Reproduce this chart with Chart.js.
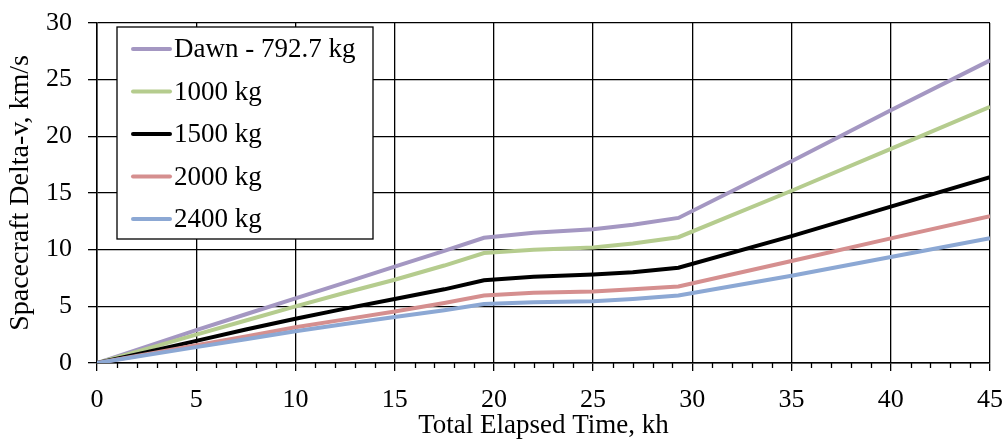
<!DOCTYPE html>
<html>
<head>
<meta charset="utf-8">
<script src="https://cdn.jsdelivr.net/npm/chart.js@4.4.0/dist/chart.umd.min.js"></script>
<style>
  html, body { margin: 0; padding: 0; background: #fff; }
  #wrap { width: 1005px; height: 442px; position: relative; }
</style>
</head>
<body>
<div id="wrap"><canvas id="chart" width="1005" height="442"></canvas></div>
<script>
// ---- data ----
const timeKh = [0, 2.5, 5, 7.5, 10, 12.5, 15, 17.5, 19.5, 22, 25, 27, 29.3, 35, 40, 45];

const dawnDv  = [0, 1.45, 2.9, 4.3, 5.7, 7.1, 8.5, 9.9, 11.05, 11.5, 11.8, 12.2, 12.8, 17.8, 22.3, 26.7];
const kg1000Dv = [0, 1.25, 2.5, 3.75, 5.0, 6.2, 7.35, 8.6, 9.7, 10.0, 10.2, 10.55, 11.1, 15.2, 18.9, 22.6];
const kg1500Dv = [0, 0.95, 1.95, 2.95, 3.9, 4.8, 5.65, 6.5, 7.3, 7.6, 7.8, 8.0, 8.4, 11.2, 13.8, 16.4];
const kg2000Dv = [0, 0.78, 1.57, 2.35, 3.15, 3.85, 4.55, 5.3, 5.95, 6.2, 6.3, 6.5, 6.75, 9.0, 11.0, 12.95];
const kg2400Dv = [0, 0.7, 1.4, 2.1, 2.8, 3.45, 4.05, 4.65, 5.2, 5.35, 5.45, 5.65, 5.95, 7.7, 9.35, 11.0];

const seriesLabels = ['Dawn - 792.7 kg', '1000 kg', '1500 kg', '2000 kg', '2400 kg'];
const seriesColors = ['#A497C2', '#B5CC8E', '#000000', '#D58F8F', '#8CA8D4'];
const seriesValues = [dawnDv, kg1000Dv, kg1500Dv, kg2000Dv, kg2400Dv];

const FONT = '"Liberation Serif", "Times New Roman", serif';

// legend drawn inside the plot area, like the original
const insideLegend = {
    id: 'insideLegend',
    afterDraw(chart) {
        const ctx = chart.ctx;
        const area = chart.chartArea;
        const x0 = area.left + 20, y0 = area.top + 4;
        const w = 256, h = 212;
        ctx.save();
        ctx.fillStyle = '#fff';
        ctx.fillRect(x0, y0, w, h);
        ctx.strokeStyle = '#000';
        ctx.lineWidth = 1.3;
        ctx.strokeRect(x0, y0, w, h);
        ctx.font = '27px ' + FONT;
        ctx.textBaseline = 'middle';
        // legend order follows the series list (Dawn first)
        seriesLabels.forEach((label, i) => {
            const cy = y0 + 22 + i * 42.5;
            ctx.strokeStyle = seriesColors[i];
            ctx.lineWidth = 4;
            ctx.lineCap = 'round';
            ctx.beginPath();
            ctx.moveTo(x0 + 16, cy);
            ctx.lineTo(x0 + 53, cy);
            ctx.stroke();
            ctx.fillStyle = '#000';
            ctx.fillText(label, x0 + 57, cy + 1);
        });
        ctx.restore();
    }
};

// minor ticks on the x axis, every 1 kh
const minorTicks = {
    id: 'minorTicks',
    afterDraw(chart) {
        const ctx = chart.ctx;
        const xs = chart.scales.x;
        const bottom = chart.chartArea.bottom;
        ctx.save();
        ctx.strokeStyle = '#000';
        ctx.lineWidth = 1.3;
        for (let v = 1; v < 45; v++) {
            if (v % 5 === 0) continue;
            const px = Math.round(xs.getPixelForValue(v)) + 0.5;
            ctx.beginPath();
            ctx.moveTo(px, bottom);
            ctx.lineTo(px, bottom + 5);
            ctx.stroke();
        }
        ctx.restore();
    }
};

// draw in reverse so Dawn sits on top, as in the original
const datasets = seriesValues.map((vals, i) => ({
    label: seriesLabels[i],
    data: timeKh.map((t, j) => ({ x: t, y: vals[j] })),
    borderColor: seriesColors[i],
    borderWidth: 4,
    pointRadius: 0,
    tension: 0,
    fill: false
})).reverse();

new Chart(document.getElementById('chart'), {
    type: 'line',
    data: { datasets: datasets },
    options: {
        responsive: false,
        animation: false,
        layout: { padding: { top: 23, right: 15, left: 0, bottom: 0 } },
        plugins: {
            legend: { display: false },
            tooltip: { enabled: false }
        },
        scales: {
            x: {
                type: 'linear',
                min: 0,
                max: 45,
                ticks: { stepSize: 5, color: '#000', font: { family: FONT, size: 26 }, padding: 14, maxRotation: 0 },
                grid: { color: '#000', lineWidth: 1.3, tickLength: 8, drawTicks: true },
                border: { color: '#000', width: 1.5 },
                title: { display: true, text: 'Total Elapsed Time, kh', color: '#000', font: { family: FONT, size: 27 }, padding: { top: 0, bottom: 0 } },
                afterFit(scale) {
                    scale.height = 79;
                    scale.paddingLeft = 0;
                    scale.paddingRight = 0;
                }
            },
            y: {
                min: 0,
                max: 30,
                ticks: { stepSize: 5, color: '#000', font: { family: FONT, size: 26 }, padding: 16 },
                grid: { color: '#000', lineWidth: 1.3, tickLength: 9 },
                border: { color: '#000', width: 1.5 },
                title: { display: true, text: 'Spacecraft Delta-v, km/s', color: '#000', font: { family: FONT, size: 28 }, padding: { top: 4, bottom: 0 } },
                afterFit(scale) {
                    scale.width = 97;
                    scale.paddingTop = 0;
                    scale.paddingBottom = 0;
                }
            }
        }
    },
    plugins: [minorTicks, insideLegend]
});
</script>
</body>
</html>
